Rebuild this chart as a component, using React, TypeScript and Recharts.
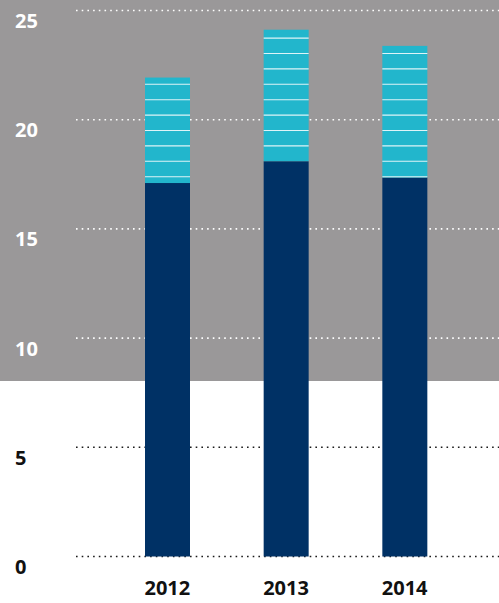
import React from 'react';
import { BarChart, Bar, XAxis, YAxis, CartesianGrid } from 'recharts';

const years = ['2012', '2013', '2014'];
const baseValues = [17.1, 18.1, 17.35];
const topValues = [4.83, 6.02, 6.03];
const yTicks = [0, 5, 10, 15, 20, 25];

const data = years.map((year, i) => ({ year, base: baseValues[i], top: topValues[i] }));

const GRAY = '#9a9899';
const NAVY = '#003165';
const CYAN = '#22b6cc';
const SPLIT = 381;
const STRIPE_PERIOD = 15.4;
const STRIPE_OFFSET = 7.3;

const StripedBar = (props: any) => {
  const { x, y, width, height } = props;
  const lines: React.ReactNode[] = [];
  const start = Math.ceil((y + 2 - STRIPE_OFFSET) / STRIPE_PERIOD);
  for (let k = start; ; k++) {
    const ly = STRIPE_OFFSET + k * STRIPE_PERIOD;
    if (ly > y + height) break;
    lines.push(
      <line key={k} x1={x} x2={x + width} y1={ly} y2={ly} stroke="#ffffff" strokeOpacity={0.85} strokeWidth={1.1} />
    );
  }
  return (
    <g>
      <rect x={x} y={y} width={width} height={height} fill={CYAN} />
      {lines}
    </g>
  );
};

const GridLine = (props: any) => {
  const { x1, x2, y1, y2 } = props;
  const onGray = y1 < SPLIT;
  return (
    <line
      x1={x1}
      x2={x2}
      y1={y1}
      y2={y2}
      stroke={onGray ? '#ffffff' : '#1a1a1a'}
      strokeWidth={1.6}
      strokeDasharray="1.6 4.1"
    />
  );
};

const YTick = (props: any) => {
  const { y, payload } = props;
  const onGray = y < SPLIT;
  return (
    <text
      x={15}
      y={y + 17.5}
      textAnchor="start"
      fontFamily="'Open Sans', sans-serif"
      fontWeight={700}
      fontSize={20}
      fill={onGray ? '#ffffff' : '#111111'}
    >
      {payload.value}
    </text>
  );
};

const XTick = (props: any) => {
  const { x, y, payload } = props;
  return (
    <text
      x={x}
      y={y + 30}
      textAnchor="middle"
      fontFamily="'Open Sans', sans-serif"
      fontWeight={700}
      fontSize={20}
      fill="#111111"
    >
      {payload.value}
    </text>
  );
};

export default function App() {
  return (
    <div
      style={{
        position: 'absolute',
        left: 0,
        top: 0,
        width: 499,
        height: 603,
        background: `linear-gradient(to bottom, ${GRAY} 0px, ${GRAY} ${SPLIT}px, #ffffff ${SPLIT}px, #ffffff 603px)`,
      }}
    >
      <BarChart
        width={499}
        height={603}
        data={data}
        margin={{ top: 10.5, right: 0, bottom: 0, left: 0 }}
        barSize={45}
      >
        <CartesianGrid vertical={false} horizontal={<GridLine />} />
        <XAxis
          dataKey="year"
          axisLine={false}
          tickLine={false}
          height={46.5}
          padding={{ left: 32, right: 35 }}
          tick={<XTick />}
        />
        <YAxis
          domain={[0, 25]}
          ticks={yTicks}
          width={76}
          axisLine={false}
          tickLine={false}
          tick={<YTick />}
        />
        <Bar dataKey="base" stackId="a" fill={NAVY} isAnimationActive={false} />
        <Bar dataKey="top" stackId="a" shape={<StripedBar />} isAnimationActive={false} />
      </BarChart>
    </div>
  );
}
